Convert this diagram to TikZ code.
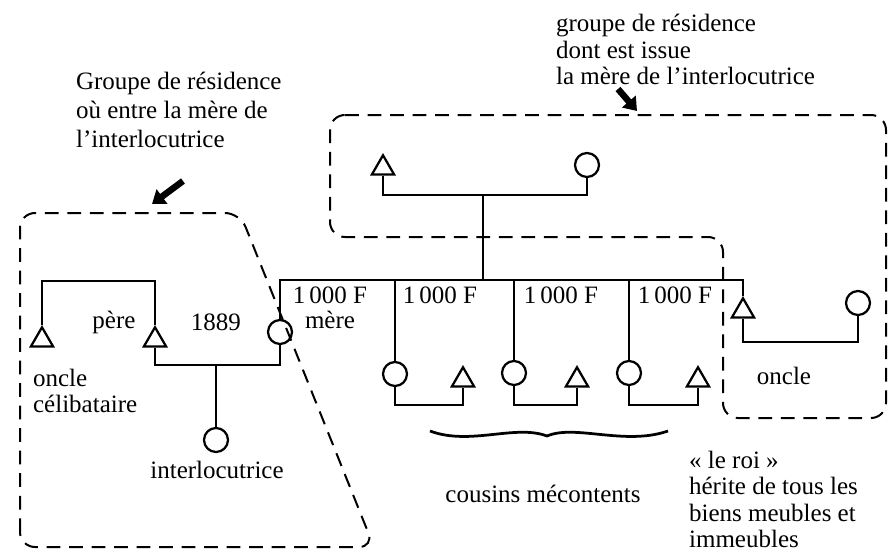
\documentclass[tikz,border=0pt]{standalone}
\usepackage{fontspec}
\setmainfont{Liberation Serif}
\usetikzlibrary{shapes.geometric,arrows.meta}

\begin{document}
\begin{tikzpicture}[x=0.4pt,y=-0.4pt,line width=0.9pt,
  male/.style={regular polygon,regular polygon sides=3,draw,inner sep=0pt,
               minimum size=10.2pt},
  female/.style={circle,draw,inner sep=0pt,minimum size=9.6pt},
  grp/.style={line width=0.8pt,dash pattern=on 5.5pt off 3.5pt,rounded corners=6pt},
  lbl/.style={font=\fontsize{10}{10.6}\selectfont,inner sep=0pt,align=left},
  hand/.style={line width=2.6pt,-{Triangle[length=5pt,width=7pt]}}
]
  \useasboundingbox (0,0) rectangle (889,553);

  % generation of the grandparents
  \node[male] (gpere) at (383,168) {};
  \node[female] (gmere) at (587,165) {};
  % left household
  \node[male] (oclb) at (42,340) {};
  \node[male] (pere) at (155,340) {};
  \node[female] (mere) at (280,332) {};
  \node[female] (itl) at (216,440) {};
  % cousins and their spouses
  \node[female] (c1) at (395,374) {};
  \node[female] (c2) at (514,373) {};
  \node[female] (c3) at (629,373) {};
  \node[male] (e1) at (463,380) {};
  \node[male] (e2) at (577,380) {};
  \node[male] (e3) at (698,380) {};
  \node[male] (oncle) at (743,311) {};
  \node[female] (tante) at (858,303) {};

  \coordinate (fr) at (0,280);
  \coordinate (gb) at (483,195);
  \coordinate (ub) at (0,281);
  \coordinate (cb) at (216,365);
  \coordinate (kb) at (0,405);
  \coordinate (ob) at (0,342);

  \draw (gpere.south) -- (gpere.south |- gb) -- (gmere.south |- gb) -- (gmere.south);
  \draw (gb) -- (gb |- fr);
  \draw (mere.north) -- (mere.north |- fr) -- (oncle.north |- fr) -- (oncle.north);
  \foreach \c in {c1,c2,c3} \draw (\c.north) -- (\c.north |- fr);
  \foreach \c/\e in {c1/e1,c2/e2,c3/e3}
    \draw (\c.south) -- (\c.south |- kb) -- (\e.south |- kb) -- (\e.south);
  \draw (oclb.north) -- (oclb.north |- ub) -- (pere.north |- ub) -- (pere.north);
  \draw (pere.south) -- (pere.south |- cb) -- (mere.south |- cb) -- (mere.south);
  \draw (cb) -- (itl.north);
  \draw (oncle.south) -- (oncle.south |- ob) -- (tante.south |- ob) -- (tante.south);

  % residence groups
  \draw[grp] (330,115) -- (886,115) -- (886,418) -- (723,418) -- (723,237)
    -- (330,237) -- cycle;
  \draw[grp] (20,547) -- (20,213) -- (240,213) -- (374,547) -- cycle;

  % pointers
  \coordinate (a1) at (183,181);
  \coordinate (a1t) at (152,204);
  \coordinate (a2) at (618,89);
  \coordinate (a2t) at (637,111);
  \draw[hand] (a1) -- (a1t);
  \draw[hand] (a2) -- (a2t);

  % brace under the cousins
  \draw[line width=1.1pt] (430,431) .. controls (470,446) and (515,424) .. (547,436)
    .. controls (575,424) and (625,446) .. (668,431);

  \node[lbl,anchor=north west] (tgl) at (75,71)
    {Groupe de résidence\\[1pt]où entre la mère de\\[1pt]l'interlocutrice};
  \node[lbl,anchor=north west] (tgr) at (555,13)
    {groupe de résidence\\dont est issue\\la mère de l'interlocutrice};
  \node[lbl,anchor=north west] (toc) at (32,368) {oncle\\célibataire};
  \node[lbl,anchor=base] (tpere) at (114,328) {père};
  \node[lbl,anchor=base] (tan) at (216,330) {1889};
  \node[lbl,anchor=base] (titl) at (217,478) {interlocutrice};
  \node[lbl,anchor=base] (f1) at (330,303) {1\,000 F};
  \node[lbl,anchor=base] (tmere) at (330,328) {mère};
  \node[lbl,anchor=base] (f2) at (440,303) {1\,000 F};
  \node[lbl,anchor=base] (f3) at (561,303) {1\,000 F};
  \node[lbl,anchor=base] (f4) at (675,303) {1\,000 F};
  \node[lbl,anchor=base] (toncle) at (784,385) {oncle};
  \node[lbl,anchor=base] (tcous) at (543,502) {cousins mécontents};
  \node[lbl,anchor=north west] (troi) at (688,450)
    {« le roi »\\hérite de tous les\\biens meubles et\\immeubles};
\end{tikzpicture}
\end{document}
